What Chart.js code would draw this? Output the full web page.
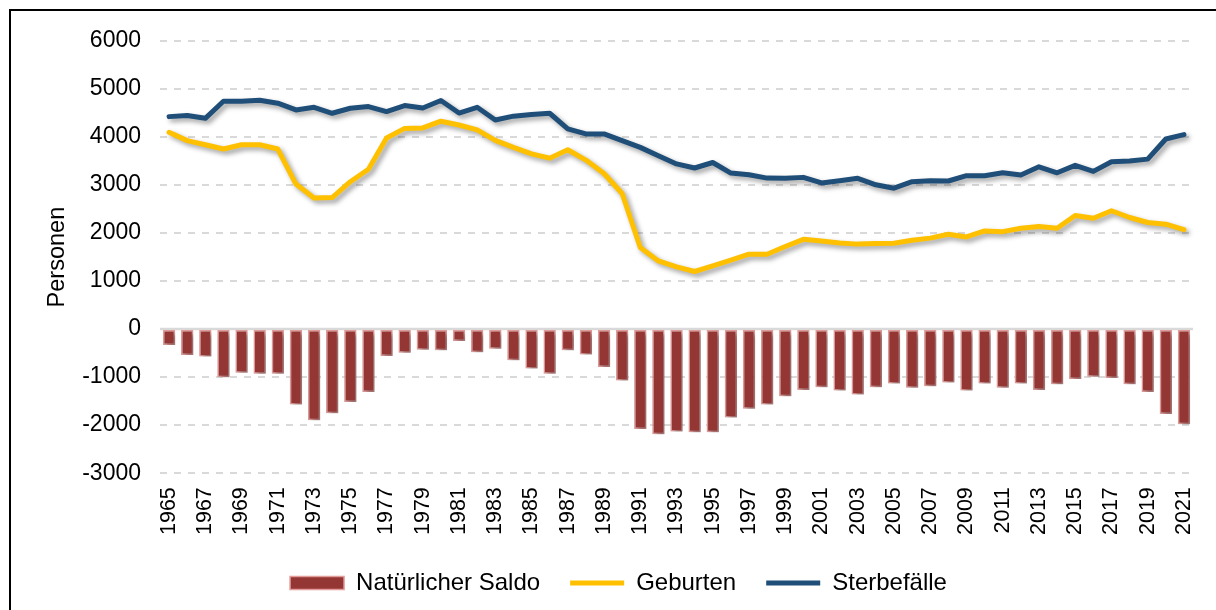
<!DOCTYPE html>
<html>
<head>
<meta charset="utf-8">
<script src="https://cdn.jsdelivr.net/npm/chart.js@4.4.1/dist/chart.umd.min.js"></script>
<style>
  html, body { margin: 0; padding: 0; background: #fff; overflow: hidden; }
  #wrap { position: relative; width: 1216px; height: 610px; }
  #frame { position: absolute; left: 9px; top: 9px; width: 1300px; height: 700px; border: 2px solid #000; box-sizing: border-box; }
  canvas { position: absolute; left: 0; top: 0; }
</style>
</head>
<body>
<div id="wrap">
  <div id="frame"></div>
  <canvas id="chartId" width="1216" height="610"></canvas>
</div>
<script>
var years = ['1965', '1966', '1967', '1968', '1969', '1970', '1971', '1972', '1973', '1974',
    '1975', '1976', '1977', '1978', '1979', '1980', '1981', '1982', '1983', '1984',
    '1985', '1986', '1987', '1988', '1989', '1990', '1991', '1992', '1993', '1994',
    '1995', '1996', '1997', '1998', '1999', '2000', '2001', '2002', '2003', '2004',
    '2005', '2006', '2007', '2008', '2009', '2010', '2011', '2012', '2013', '2014',
    '2015', '2016', '2017', '2018', '2019', '2020', '2021'];

var saldo = [-330, -540, -570, -1000, -910, -930, -930, -1570, -1900, -1750,
    -1520, -1310, -560, -490, -430, -440, -250, -480, -410, -650,
    -820, -930, -440, -530, -790, -1070, -2080, -2190, -2130, -2150,
    -2150, -1840, -1660, -1570, -1400, -1270, -1210, -1280, -1360, -1210,
    -1130, -1220, -1190, -1110, -1280, -1130, -1220, -1130, -1270, -1150,
    -1040, -990, -1020, -1150, -1310, -1770, -1980];

var geburten = [4100, 3925, 3840, 3750, 3840, 3840, 3750, 3020, 2730, 2740,
    3070, 3330, 3980, 4180, 4190, 4330, 4250, 4150, 3930, 3785,
    3650, 3560, 3735, 3520, 3240, 2825, 1700, 1420, 1295, 1200,
    1315, 1435, 1560, 1560, 1720, 1870, 1835, 1795, 1770, 1785,
    1790, 1850, 1895, 1975, 1920, 2045, 2030, 2100, 2135, 2100,
    2365, 2310, 2465, 2325, 2220, 2185, 2070];

var sterbefaelle = [4425, 4450, 4390, 4745, 4745, 4765, 4705, 4565, 4620, 4495,
    4600, 4635, 4530, 4655, 4605, 4760, 4500, 4620, 4355, 4435,
    4470, 4495, 4170, 4065, 4065, 3925, 3785, 3610, 3440, 3355,
    3470, 3250, 3215, 3145, 3140, 3160, 3045, 3090, 3140, 3005,
    2935, 3070, 3090, 3085, 3195, 3195, 3255, 3210, 3380, 3255,
    3410, 3285, 3485, 3500, 3540, 3960, 4050];

var yTicks = [-3000, -2000, -1000, 0, 1000, 2000, 3000, 4000, 5000, 6000];

var fontFamily = '"Liberation Sans", Arial, sans-serif';

// soft drop shadow under bars and lines
var shadowPlugin = {
    id: 'shadow',
    beforeDatasetDraw(chart) {
        var ctx = chart.ctx;
        ctx.save();
        ctx.shadowColor = 'rgba(0,0,0,0.38)';
        ctx.shadowBlur = 5;
        ctx.shadowOffsetX = 3;
        ctx.shadowOffsetY = 3;
    },
    afterDatasetDraw(chart) {
        chart.ctx.restore();
    }
};

// solid line at zero
var zeroLine = {
    id: 'zeroLine',
    beforeDatasetsDraw(chart) {
        var ctx = chart.ctx;
        var area = chart.chartArea;
        var y = chart.scales.y.getPixelForValue(0);
        ctx.save();
        ctx.strokeStyle = '#d9d9d9';
        ctx.lineWidth = 2.5;
        ctx.beginPath();
        ctx.moveTo(area.left, y);
        ctx.lineTo(area.right, y);
        ctx.stroke();
        ctx.restore();
    }
};

// legend sits a bit right of the canvas centre
var legendShift = {
    id: 'legendShift',
    afterLayout(chart) {
        chart.legend.left += 12;
        chart.legend.right += 12;
    }
};

var chrt = document.getElementById("chartId").getContext("2d");
var chartId = new Chart(chrt, {
    type: 'bar',
    data: {
        labels: years,
        datasets: [{
            label: 'Natürlicher Saldo',
            data: saldo,
            backgroundColor: '#943634',
            borderColor: '#e39c9a',
            borderWidth: 1.5,
            borderSkipped: false,
            categoryPercentage: 1,
            barPercentage: 0.68,
        }, {
            type: 'line',
            label: 'Geburten',
            data: geburten,
            borderColor: '#ffc000',
            backgroundColor: '#ffc000',
            borderWidth: 5,
            pointRadius: 0,
            borderJoinStyle: 'round',
            borderCapStyle: 'round',
            tension: 0,
        }, {
            type: 'line',
            label: 'Sterbefälle',
            data: sterbefaelle,
            borderColor: '#1f4e79',
            backgroundColor: '#1f4e79',
            borderWidth: 5,
            pointRadius: 0,
            borderJoinStyle: 'round',
            borderCapStyle: 'round',
            tension: 0,
        }],
    },
    options: {
        responsive: false,
        animation: false,
        devicePixelRatio: 1,
        layout: {
            padding: { left: 20, right: 23, top: 41, bottom: 5 }
        },
        plugins: {
            tooltip: { enabled: false },
            legend: {
                position: 'bottom',
                labels: {
                    usePointStyle: true,
                    pointStyleWidth: 54,
                    boxHeight: 13,
                    padding: 30,
                    color: '#000',
                    font: { family: fontFamily, size: 24 },
                    generateLabels(chart) {
                        var items = Chart.defaults.plugins.legend.labels.generateLabels(chart);
                        items.forEach(function (it) {
                            var ds = chart.data.datasets[it.datasetIndex];
                            it.pointStyle = ds.type === 'line' ? 'line' : 'rect';
                        });
                        return items;
                    }
                }
            }
        },
        scales: {
            x: {
                grid: { display: false },
                border: { display: false },
                ticks: {
                    autoSkip: false,
                    maxRotation: 90,
                    minRotation: 90,
                    padding: 6,
                    color: '#000',
                    font: { family: fontFamily, size: 21.5 },
                    callback: function (v, i) {
                        return i % 2 === 0 ? years[i] : '';
                    }
                }
            },
            y: {
                min: yTicks[0],
                max: yTicks[yTicks.length - 1],
                afterFit(scale) { scale.width = 140; },
                afterBuildTicks(scale) {
                    scale.ticks = yTicks.map(function (v) { return { value: v }; });
                },
                grid: {
                    color: '#d9d9d9',
                    lineWidth: 2,
                    drawTicks: false,
                },
                border: { display: false, dash: [7, 7] },
                ticks: {
                    padding: 19,
                    color: '#000',
                    font: { family: fontFamily, size: 23 },
                    callback: function (v) { return String(v); }
                },
                title: {
                    display: true,
                    text: 'Personen',
                    color: '#000',
                    font: { family: fontFamily, size: 23.5 },
                    padding: { top: 23, bottom: 0 }
                }
            }
        }
    },
    plugins: [shadowPlugin, zeroLine, legendShift],
});
</script>
</body>
</html>
